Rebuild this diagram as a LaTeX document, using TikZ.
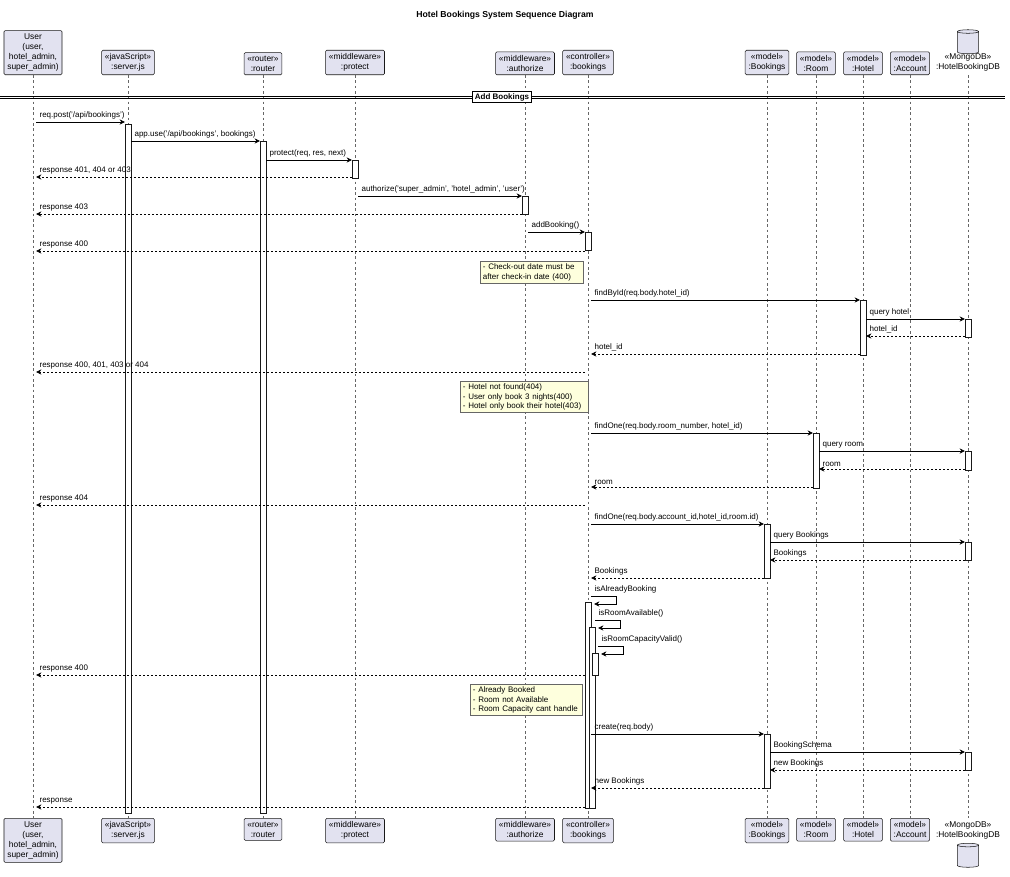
\documentclass[tikz,border=0pt]{standalone}
\usepackage{fontspec}
\setmainfont{Liberation Sans}
\usetikzlibrary{arrows.meta,calc,positioning,shapes.geometric}

\tikzset{
  part/.style={draw=black!90,fill=partfill,rounded corners=1pt,align=center,inner sep=2.5pt,
    font=\fontsize{6.3}{7.5}\selectfont},
  life/.style={draw=black!60,dash pattern=on 2pt off 2pt,line width=.4pt},
  act/.style={draw=black!90,fill=white,line width=.5pt},
  msg/.style={-{Stealth[length=4pt,width=4pt]},line width=.5pt,shorten >=2.3pt,shorten <=2.3pt},
  ret/.style={msg,dash pattern=on 1.5pt off 1.5pt},
  lbl/.style={font=\fontsize{6}{7}\selectfont,inner sep=1pt,anchor=south west},
  note/.style={draw=black!60,fill=notefill,align=left,font=\fontsize{6}{7}\selectfont,
    inner sep=2pt,anchor=north west,text width=#1},
}
\definecolor{partfill}{HTML}{E2E2F0}
\definecolor{notefill}{HTML}{FEFFDD}

% message: y, from, to, left lifeline, label
\newcommand\msg[6][msg]{\draw[#1] (#3 |- 0,#2) -- (#4 |- 0,#2);
  \node[lbl] at ($(#5 |- 0,#2)+(5,-1)$) {#6};}
\newcommand\actbar[3]{\draw[act] ($(#1 |- 0,#2)+(-3,0)$) rectangle ($(#1 |- 0,#3)+(3,0)$);}
\newcommand\selfmsg[3]{\draw[msg,shorten <=0pt] ($(#1 |- 0,#2)+(3,0)$) -- ++(25,0) -- ++(0,8) -- ++(-25,0);
  \node[lbl] at ($(#1 |- 0,#2)+(5,-1)$) {#3};}

\begin{document}
\begin{tikzpicture}[x=0.75pt,y=-0.75pt]
\useasboundingbox (0,0) rectangle (1010,876);
\node[font=\bfseries\fontsize{6.5}{8}\selectfont] (title) at (505,15) {Hotel Bookings System Sequence Diagram};

% participants
\foreach \n/\x/\t in {user/33/{User\\(user,\\hotel\_admin,\\super\_admin)},
    srv/128/{«javaScript»\\:server.js}, rtr/263/{«router»\\:router},
    prot/355/{«middleware»\\:protect}, auth/525/{«middleware»\\:authorize},
    ctl/588/{«controller»\\:bookings}, bkm/767/{«model»\\:Bookings},
    room/816/{«model»\\:Room}, hotel/863/{«model»\\:Hotel}, acc/910/{«model»\\:Account}} {
  \coordinate (\n) at (\x,0);
  \node[part,anchor=south] (top\n) at (\x,75) {\t};
  \node[part,anchor=north] (bot\n) at (\x,818) {\t};
  \draw[life] (top\n) -- (bot\n);
}
\coordinate (db) at (968,0);
\node[part,draw=none,fill=none,anchor=south] (topdb) at (968,75) {«MongoDB»\\:HotelBookingDB};
\node[cylinder,shape border rotate=90,draw=black!90,fill=partfill,minimum width=16pt,minimum height=18pt,
  aspect=.4,anchor=south] (cyltop) at (968,54) {};
\node[part,draw=none,fill=none,anchor=north] (botdb) at (968,818) {«MongoDB»\\:HotelBookingDB};
\node[cylinder,shape border rotate=90,draw=black!90,fill=partfill,minimum width=16pt,minimum height=18pt,
  aspect=.4,anchor=north] (cylbot) at (968,843) {};
\draw[life] (topdb) -- (botdb);

% group divider
\draw[line width=.5pt] (0,96) -- (1005,96) (0,98.5) -- (1005,98.5);
\node[draw,fill=white,line width=.7pt,font=\bfseries\fontsize{6}{7}\selectfont,inner sep=1.5pt] (grp) at (502,97) {Add Bookings};

% activations
\actbar{srv}{124}{813}
\actbar{rtr}{141}{813}
\actbar{prot}{160}{178}
\actbar{auth}{196}{214}
\actbar{ctl}{232}{250}
\actbar{hotel}{300}{355}
\actbar{db}{319}{337}
\actbar{room}{433}{488}
\actbar{db}{451}{470}
\actbar{bkm}{524}{578}
\actbar{db}{542}{560}
\actbar{ctl}{602}{808}
\draw[act] (589,627) rectangle (595,808);
\draw[act] (592,653) rectangle (598,675);
\actbar{bkm}{734}{788}
\actbar{db}{752}{770}

% messages
\msg{122}{user}{srv}{user}{req.post('/api/bookings')}
\msg{141}{srv}{rtr}{srv}{app.use('/api/bookings', bookings)}
\msg{160}{rtr}{prot}{rtr}{protect(req, res, next)}
\msg[ret]{177}{prot}{user}{user}{response 401, 404 or 403}
\msg{196}{prot}{auth}{prot}{authorize('super\_admin', 'hotel\_admin', 'user')}
\msg[ret]{214}{auth}{user}{user}{response 403}
\msg{232}{auth}{ctl}{auth}{addBooking()}
\msg[ret]{251}{ctl}{user}{user}{response 400}
\node[note=73pt] (note1) at (480,261) {- Check-out date must be\\after check-in date (400)};
\msg{300}{ctl}{hotel}{ctl}{findById(req.body.hotel\_id)}
\msg{319}{hotel}{db}{hotel}{query hotel}
\msg[ret]{336}{db}{hotel}{hotel}{hotel\_id}
\msg[ret]{354}{hotel}{ctl}{ctl}{hotel\_id}
\msg[ret]{372}{ctl}{user}{user}{response 400, 401, 403 or 404}
\node[note=92pt] (note2) at (460,381) {- Hotel not found(404)\\- User only book 3 nights(400)\\- Hotel only book their hotel(403)};
\msg{433}{ctl}{room}{ctl}{findOne(req.body.room\_number, hotel\_id)}
\msg{451}{room}{db}{room}{query room}
\msg[ret]{469}{db}{room}{room}{room}
\msg[ret]{487}{room}{ctl}{ctl}{room}
\msg[ret]{505}{ctl}{user}{user}{response 404}
\msg{524}{ctl}{bkm}{ctl}{findOne(req.body.account\_id,hotel\_id,room.id)}
\msg{542}{bkm}{db}{bkm}{query Bookings}
\msg[ret]{560}{db}{bkm}{bkm}{Bookings}
\msg[ret]{578}{bkm}{ctl}{ctl}{Bookings}
\selfmsg{ctl}{596}{isAlreadyBooking}
\draw[msg,shorten <=0pt] (595,620) -- ++(25,0) -- ++(0,8) -- ++(-25,0);
\node[lbl] at (597,619) {isRoomAvailable()};
\draw[msg,shorten <=0pt] (598,646) -- ++(25,0) -- ++(0,8) -- ++(-25,0);
\node[lbl] at (600,645) {isRoomCapacityValid()};
\msg[ret]{675}{ctl}{user}{user}{response 400};
\node[note=80pt] (note3) at (470,684) {- Already Booked\\- Room not Available\\- Room Capacity cant handle};
\msg{734}{ctl}{bkm}{ctl}{create(req.body)}
\msg{752}{bkm}{db}{bkm}{BookingSchema}
\msg[ret]{770}{db}{bkm}{bkm}{new Bookings}
\msg[ret]{788}{bkm}{ctl}{ctl}{new Bookings}
\msg[ret]{807}{ctl}{user}{user}{response}
\end{tikzpicture}
\end{document}
